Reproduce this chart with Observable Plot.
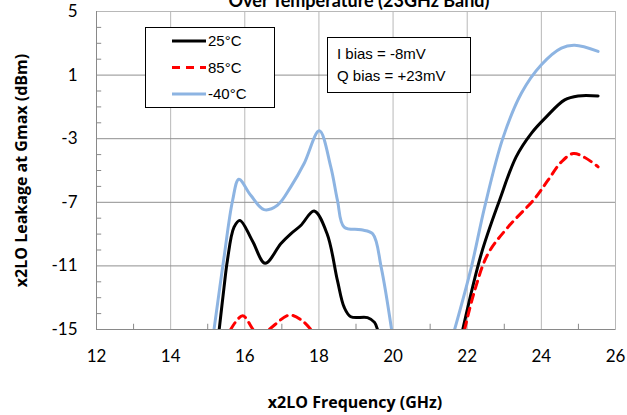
<!DOCTYPE html>
<html><head><meta charset="utf-8">
<script src="https://cdn.jsdelivr.net/npm/d3@7"></script>
<script src="https://cdn.jsdelivr.net/npm/@observablehq/plot@0.6"></script>
<style>
body{margin:0;background:#fff;}
#wrap{position:relative;width:627px;height:415px;overflow:hidden;}
#wrap svg{display:block;}
.ov{position:absolute;left:0;top:0;}
</style></head><body><div id="wrap"></div>
<script>
const titleText = "Over Temperature (23GHz Band)";
const xLabel = "x2LO Frequency (GHz)";
const yLabel = "x2LO Leakage at Gmax (dBm)";
const biasLines = ["I bias = -8mV", "Q bias = +23mV"];
const seriesNames = ["25°C", "85°C", "-40°C"];
const seriesColors = ["#000000", "#ff0000", "#8db4e2"];
const seriesDash = [null, "8,6", null];
const xTicks = [12, 14, 16, 18, 20, 22, 24, 26];
const yTicks = [-15, -11, -7, -3, 1, 5];
const xMinor = [13, 15, 17, 19, 21, 23, 25];
const yMinor = [-14, -13, -12, -10, -9, -8, -6, -5, -4, -2, -1, 0, 2, 3, 4];

// 25°C
const x25 = [15.31, 15.44, 15.53, 15.71, 15.87, 16.2, 16.55, 16.97, 17.24, 17.51, 17.87, 18.22, 18.5, 18.68, 18.86, 19.31, 19.5, 19.58,
  null,
  21.88, 22.38, 22.87, 23.32, 23.73, 24.14, 24.63, 24.99, 25.53];
const y25 = [-15, -12.35, -10.67, -8.56, -8.14, -9.4, -10.84, -9.6, -8.98, -8.46, -7.55, -8.98, -11.93, -13.6, -14.2, -14.25, -14.55, -15,
  null,
  -15, -10.24, -6.88, -4.14, -2.66, -1.61, -0.56, -0.31, -0.31];
// 85°C
const x85 = [15.62, 15.94, 16.38, 17.2, 17.55, 17.78,
  null,
  21.93, 22.2, 22.56, 23.1, 23.82, 24.18, 24.54, 24.86, 25.17, 25.53];
const y85 = [-15, -14.14, -15.3, -14.1, -14.45, -15,
  null,
  -15, -12.56, -10.24, -8.56, -6.77, -5.61, -4.46, -3.93, -4.18, -4.77];
// -40°C
const xm40 = [15.17, 15.44, 15.67, 15.84, 16.16, 16.52, 16.88, 17.24, 17.6, 18.01, 18.32, 18.5, 18.68, 19.14, 19.45, 19.68, 19.96,
  null,
  21.66, 22.11, 22.47, 22.96, 23.46, 24.0, 24.54, 24.9, 25.53];
const ym40 = [-15, -10.46, -6.9, -5.55, -6.56, -7.46, -7.19, -6.03, -4.56, -2.5, -4.77, -6.88, -8.56, -8.73, -8.98, -11.09, -15,
  null,
  -15, -11.09, -7.3, -2.98, -0.14, 1.65, 2.7, 2.87, 2.49];

const seriesX = [x25, x85, xm40];
const seriesY = [y25, y85, ym40];

const W = 627, H = 415;
const mL = 96, mR = 12, mT = 11, mB = 86;

const lineMarks = seriesX.map((xs, s) => {
  const rows = xs.map((x, i) => ({x, y: seriesY[s][i]}));
  return Plot.line(rows, {
    x: "x", y: "y", stroke: seriesColors[s], strokeWidth: 3,
    strokeDasharray: seriesDash[s] || undefined,
    curve: "catmull-rom", clip: true
  });
});

const titleFont = "'Open Sans', Lato, sans-serif";

const plot = Plot.plot({
  width: W, height: H,
  marginLeft: mL, marginRight: mR, marginTop: mT, marginBottom: mB,
  style: {fontFamily: "Lato, 'Noto Sans', sans-serif", fontSize: "17px", background: "#fff", overflow: "hidden"},
  x: {domain: [12, 26]},
  y: {domain: [-15, 5]},
  marks: [
    Plot.gridX(xTicks.slice(1, -1), {stroke: "#b8b8b8", strokeOpacity: 1}),
    Plot.gridY(yTicks.slice(1, -1), {stroke: "#8f8f8f", strokeOpacity: 1}),
    Plot.frame({stroke: "#b8b8b8"}),
    Plot.ruleX(xMinor, {x: d => d, y1: -15, y2: -15 + 0.33, stroke: "#898989"}),
    Plot.ruleY(yMinor, {y: d => d, x1: 12, x2: 12 + 0.14, stroke: "#898989"}),
    Plot.ruleX([12], {stroke: "#898989"}),
    Plot.ruleY([-15], {stroke: "#898989"}),
    Plot.axisX({ticks: xTicks, tickSize: 0, tickPadding: 20, tickFormat: d => String(d), fontSize: 17, label: null}),
    Plot.axisY({ticks: yTicks, tickSize: 0, tickPadding: 19, tickFormat: d => String(d), fontSize: 17, label: null}),
    ...lineMarks,
    Plot.text([titleText], {frameAnchor: "top", dx: 3, dy: -5, lineAnchor: "bottom", fontWeight: "bold", fontSize: 18, text: d => d}),
    Plot.text([xLabel], {frameAnchor: "bottom", dx: -1, dy: 73, textAnchor: "middle", lineAnchor: "middle", fontWeight: "bold", fontSize: 16, fontFamily: titleFont, text: d => d}),
    Plot.text([yLabel], {frameAnchor: "left", dx: -75, dy: 0, rotate: -90, textAnchor: "middle", lineAnchor: "middle", fontWeight: "bold", fontSize: 16, fontFamily: titleFont, text: d => d})
  ]
});

const wrap = document.getElementById("wrap");
wrap.appendChild(plot);

// overlay: legend box and bias note box
const ov = d3.select(wrap).append("svg").attr("class", "ov")
  .attr("width", W).attr("height", H)
  .style("font-family", "'Liberation Sans', Arial, sans-serif").style("font-size", "15px");

const lg = ov.append("g").attr("transform", "translate(145.5,27.5)");
lg.append("rect").attr("width", 129).attr("height", 80).attr("fill", "#fff").attr("stroke", "#000");
seriesNames.forEach((name, i) => {
  const cy = 13.5 + i * 26.5;
  lg.append("line").attr("x1", 26.5).attr("x2", 60.5).attr("y1", cy).attr("y2", cy)
    .attr("stroke", seriesColors[i]).attr("stroke-width", 3)
    .attr("stroke-dasharray", seriesDash[i]);
  lg.append("text").attr("x", 62.5).attr("y", cy).attr("dy", "0.35em").text(name);
});

const nb = ov.append("g").attr("transform", "translate(327.5,37.5)");
nb.append("rect").attr("width", 143).attr("height", 55).attr("fill", "#fff").attr("stroke", "#000");
biasLines.forEach((t, i) => {
  nb.append("text").attr("x", 9.5).attr("y", 16.5 + i * 22).attr("dy", "0.35em").text(t);
});
</script>
</body></html>
